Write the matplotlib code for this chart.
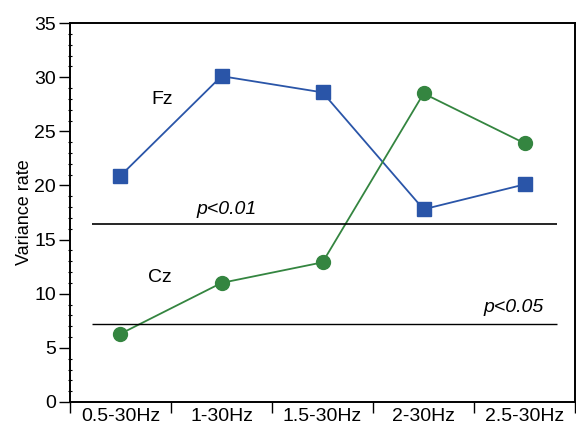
import matplotlib
matplotlib.use("Agg")
import matplotlib.pyplot as plt
from matplotlib.ticker import MultipleLocator, FixedLocator, NullFormatter

plt.rcParams['font.family'] = ['Liberation Sans', 'DejaVu Sans']

categories = ["0.5-30Hz", "1-30Hz", "1.5-30Hz", "2-30Hz", "2.5-30Hz"]
fz = [20.9, 30.1, 28.6, 17.8, 20.1]
cz = [6.3, 11.0, 12.9, 28.5, 23.9]
p01 = 16.4
p05 = 7.2

fig = plt.figure(figsize=(5.76, 4.36), dpi=100)
ax = fig.add_axes([0.1215, 0.078, 0.877, 0.869])

x = list(range(len(categories)))
ax.plot(x, fz, color='#2a55a8', lw=1.3, marker='s', ms=10, mec='#2a55a8', mfc='#2a55a8')
ax.plot(x, cz, color='#348540', lw=1.3, marker='o', ms=10, mec='#348540', mfc='#348540')

ax.hlines([p01], -0.28, 4.32, color='black', lw=1.2)
ax.hlines([p05], -0.28, 4.32, color='black', lw=1.0)

ax.text(1.05, 17.8, "p<0.01", style='italic', fontsize=14, ha='center', va='center')
ax.text(3.89, 8.75, "p<0.05", style='italic', fontsize=14, ha='center', va='center')
ax.text(0.41, 27.95, "Fz", fontsize=14, ha='center', va='center')
ax.text(0.39, 11.5, "Cz", fontsize=14, ha='center', va='center')

ax.set_xlim(-0.5, 4.5)
ax.set_ylim(0, 35)
ax.xaxis.set_major_locator(FixedLocator([i - 0.5 for i in range(len(categories) + 1)]))
ax.xaxis.set_major_formatter(NullFormatter())
ax.xaxis.set_minor_locator(FixedLocator(x))
ax.set_xticklabels(categories, minor=True)
ax.tick_params(axis='x', which='major', length=8, direction='out', width=1)
ax.tick_params(axis='x', which='minor', length=0, labelsize=14, pad=4)

ax.yaxis.set_major_locator(MultipleLocator(5))
ax.yaxis.set_minor_locator(MultipleLocator(1))
ax.tick_params(axis='y', which='major', length=8, direction='out', labelsize=14, width=1, pad=2)
ax.tick_params(axis='y', which='minor', length=3, direction='inout', width=0.8)
ax.set_ylabel("Variance rate", fontsize=13, labelpad=1)

for s in ax.spines.values():
    s.set_linewidth(1.4)

fig.savefig("out.png", dpi=100)
